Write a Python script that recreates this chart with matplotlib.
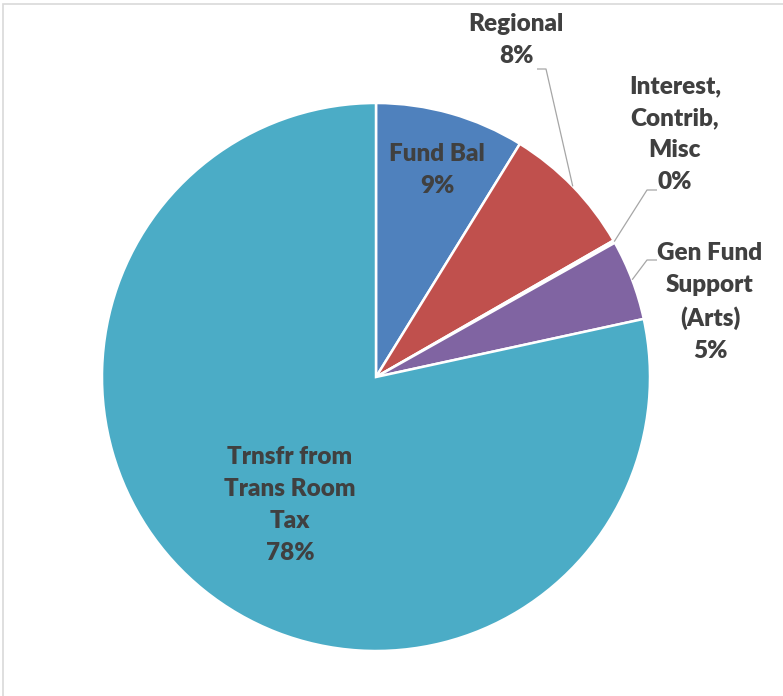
import numpy as np
import matplotlib
matplotlib.use("Agg")
import matplotlib.pyplot as plt
from matplotlib.patches import Rectangle

labels = ["Fund Bal", "Regional", "Interest,\nContrib,\nMisc", "Gen Fund\nSupport\n(Arts)", "Trnsfr from\nTrans Room\nTax"]
values = [8.8, 7.9, 0.15, 4.75, 78.4]
colors = ["#4F81BD", "#C0504D", "#9BBB59", "#8064A2", "#4BACC6"]

W, H = 783, 696
fig = plt.figure(figsize=(W / 100, H / 100), dpi=100)
ax = fig.add_axes([0, 0, 1, 1])

cx, cy, R = 376, H - 377, 274
wedges, _ = ax.pie(values, colors=colors, startangle=90, counterclock=False,
                   center=(cx, cy), radius=R, frame=True,
                   wedgeprops=dict(edgecolor="white", linewidth=1.8))
ax.set_xlim(0, W)
ax.set_ylim(0, H)
ax.set_aspect("equal")
ax.axis("off")

txtc = "#404040"
font = dict(family=["Lato", "DejaVu Sans"], fontweight="heavy", fontsize=17.5,
            color=txtc, ha="center", va="center", linespacing=1.55)

total = sum(values)
pcts = [f"{v / total * 100:.0f}%" for v in values]

# label positions (pixel coords, y from top) and leader-line start
pos = [(437, 170, None), (516, 40, (537, 69)), (675, 134, (657, 190)),
       (710, 302, (657, 260)), (290, 505, None)]

for w, lab, p, (x, y, lead) in zip(wedges, labels, pcts, pos):
    ax.text(x, H - y, f"{lab}\n{p}", **font)
    if lead is not None:
        mid = np.deg2rad((w.theta1 + w.theta2) / 2)
        ax_x = cx + R * np.cos(mid)
        ax_y = cy + R * np.sin(mid)
        lx, ly = lead
        dx = 9 if lx < ax_x else -10
        ax.plot([lx, lx + dx, ax_x], [H - ly, H - ly, ax_y], color="#A6A6A6",
                lw=0.9, solid_capstyle="butt")

fig.patches.append(Rectangle((3 / W, -0.1), 1.2, 1.1 - 4 / H, transform=fig.transFigure,
                             fill=False, edgecolor="#D9D9D9", linewidth=1.2))

fig.savefig("out.png", dpi=100, facecolor="white")
